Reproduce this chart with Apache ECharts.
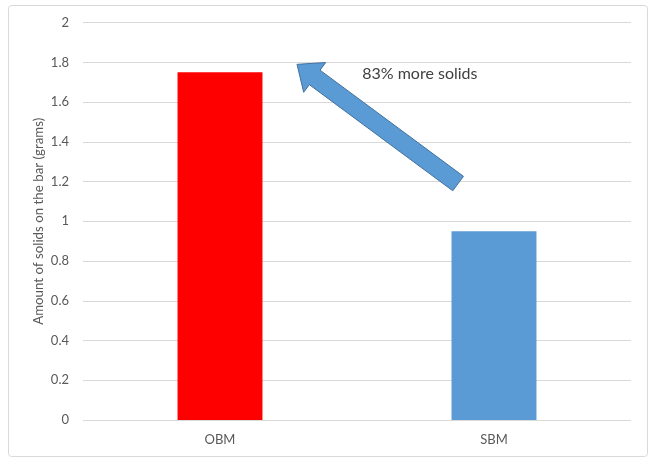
<!DOCTYPE html>
<html>
<head>
<meta charset="utf-8">
<script src="https://cdn.jsdelivr.net/npm/echarts@6/dist/echarts.min.js"></script>
<style>html,body{margin:0;padding:0;background:#fff;}#c{width:650px;height:458px;}</style>
</head>
<body>
<div id="c"></div>
<script>
var categories = ['OBM', 'SBM'];
var values = [1.75, 0.95];
var barColors = ['#ff0000', '#5b9bd5'];
var yTicks = { min: 0, max: 2, interval: 0.2 };
var yAxisName = 'Amount of solids on the bar (grams)';
var annotationText = '83% more solids';
// arrow from SBM (category index + offset, value) to near OBM top
var arrowTail = [0.869, 1.19];
var arrowTip = [0.281, 1.79];

var chart = echarts.init(document.getElementById('c'), null, { renderer: 'canvas' });
var font = 'Lato, "Open Sans", sans-serif';
chart.setOption({
  animation: false,
  grid: { left: 83, right: 19, top: 22.6, bottom: 38 },
  xAxis: {
    type: 'category', data: categories,
    axisLine: { show: false }, axisTick: { show: false },
    axisLabel: { color: '#595959', fontSize: 13, fontFamily: font, margin: 13 }
  },
  yAxis: {
    type: 'value', min: yTicks.min, max: yTicks.max, interval: yTicks.interval,
    name: yAxisName, nameLocation: 'middle', nameGap: 38, nameMoveOverlap: false,
    nameTextStyle: { color: '#595959', fontSize: 13.3, fontFamily: font },
    axisLabel: { color: '#595959', fontSize: 13, fontFamily: font, margin: 14,
      formatter: function (v) { return String(Math.round(v * 10) / 10); } },
    splitLine: { lineStyle: { color: '#d9d9d9', width: 1 } },
    axisLine: { show: false }, axisTick: { show: false }
  },
  series: [{
    type: 'bar', barWidth: '31%',
    data: values.map(function (v, i) { return { value: v, itemStyle: { color: barColors[i] } }; })
  }]
});

function catPix(idx, val) {
  var pz = chart.convertToPixel({ gridIndex: 0 }, [0, val]);
  var p1 = chart.convertToPixel({ gridIndex: 0 }, [1, val]);
  var step = p1[0] - pz[0];
  return [pz[0] + idx * step, pz[1]];
}
var T = catPix(arrowTail[0], arrowTail[1]);
var P = catPix(arrowTip[0], arrowTip[1]);
var dx = P[0] - T[0], dy = P[1] - T[1];
var L = Math.sqrt(dx * dx + dy * dy);
var ux = dx / L, uy = dy / L, nx = -uy, ny = ux;
var hl = 22, sw = 9, hw = 18.5;
var H = [P[0] - ux * hl, P[1] - uy * hl];
var pts = [
  [T[0] + nx * sw, T[1] + ny * sw],
  [H[0] + nx * sw, H[1] + ny * sw],
  [H[0] + nx * hw, H[1] + ny * hw],
  P,
  [H[0] - nx * hw, H[1] - ny * hw],
  [H[0] - nx * sw, H[1] - ny * sw],
  [T[0] - nx * sw, T[1] - ny * sw]
];
var textPos = catPix(0.519, 1.74);

chart.setOption({
  graphic: [
    { type: 'rect', shape: { x: 8.5, y: 5.5, width: 639, height: 451, r: 3 },
      style: { fill: 'none', stroke: '#d9d9d9', lineWidth: 1 }, z: 100 },
    { type: 'polygon', shape: { points: pts },
      style: { fill: '#5b9bd5', stroke: '#41719c', lineWidth: 1 }, z: 100 },
    { type: 'text', x: textPos[0], y: textPos[1],
      style: { text: annotationText, fill: '#404040', font: '16px ' + font,
        textAlign: 'left', textVerticalAlign: 'middle' }, z: 100 }
  ]
});
</script>
</body>
</html>
